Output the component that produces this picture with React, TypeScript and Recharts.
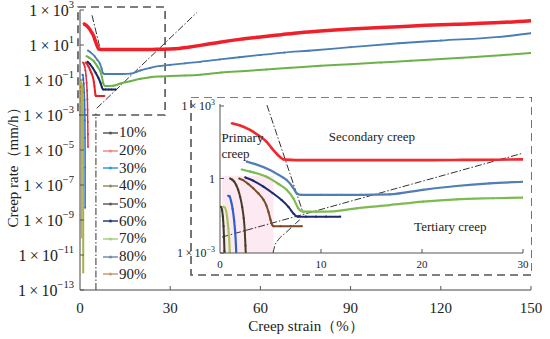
import React from 'react';
import { LineChart, Line, XAxis, YAxis, ReferenceLine, ReferenceArea, ReferenceDot } from 'recharts';

const FONT = '"Liberation Serif", "Times New Roman", serif';

// ---- legend ----
const legendLabels = ['10%', '20%', '30%', '40%', '50%', '60%', '70%', '80%', '90%'];
const legendColors = ['#5a5a4a', '#f08a7a', '#3a9ad8', '#9a8a6a', '#6a5a5a', '#2a3a8a', '#a8d080', '#7a8aaa', '#c89a70'];

// ---- series data: creep strain (%) and creep rate (mm/h) ----
const strain10 = [0.05, 0.12, 0.2, 0.28, 0.35, 0.4, 0.44, 0.47, 0.5, 0.52, 0.54];
const rate10 = [0.072, 0.07, 0.055, 0.03, 0.012, 0.004, 0.0012, 3e-4, 2e-5, 1e-7, 1e-10];

const strain20 = [1.16, 2, 2.97, 3.8, 4.62, 5.1, 5.6, 6.0, 6.27, 7, 8, 10, 12, 15, 18, 21, 24, 27, 30, 33, 36, 40, 46.5, 53, 60, 67, 73, 80, 90, 100, 106, 115, 125, 139.5, 150];
const rate20 = [167, 135, 90, 55, 30, 17, 10, 7, 5.9, 5.6, 5.5, 5.5, 5.5, 5.5, 5.5, 5.5, 5.6, 5.7, 5.9, 6.4, 7.5, 9.5, 14.5, 21, 29, 39, 50, 63, 82, 100, 112, 133, 155, 190, 245];

const strain30 = [0.8, 0.95, 1.1, 1.25, 1.4, 1.5, 1.58, 1.63, 1.67, 1.7, 1.72];
const rate30 = [0.2, 0.19, 0.12, 0.06, 0.02, 0.007, 0.002, 5e-4, 5e-5, 1e-6, 5e-9];

const strain40 = [1.9, 2.3, 2.8, 3.3, 3.8, 4.3, 4.6, 4.8, 5.0, 5.15, 5.3, 6, 7, 8.1];
const rate40 = [1.0, 0.85, 0.6, 0.4, 0.25, 0.14, 0.08, 0.045, 0.022, 0.014, 0.012, 0.012, 0.012, 0.012];

const strain50 = [1.0, 1.2, 1.4, 1.6, 1.8, 2.0, 2.2, 2.35, 2.45, 2.52, 2.58, 2.62, 2.66];
const rate50 = [1.0, 0.9, 0.75, 0.55, 0.35, 0.18, 0.07, 0.025, 0.008, 0.002, 4e-4, 8e-5, 1.5e-5];

const strain60 = [2.5, 3.2, 4.3, 5.2, 6.1, 6.8, 7.3, 7.7, 8.5, 9.5, 10.5, 11.9];
const rate60 = [1.1, 0.85, 0.47, 0.26, 0.135, 0.07, 0.038, 0.029, 0.029, 0.029, 0.029, 0.029];

const strain70 = [2.15, 3, 4.6, 5.8, 6.6, 7.3, 7.75, 8.25, 9.5, 11, 13.5, 16.8, 20.1, 23.4, 27, 30, 35, 40, 47, 55, 62, 70, 80, 90, 100, 110, 120, 130, 140, 150];
const rate70 = [2.3, 1.9, 1.18, 0.6, 0.35, 0.15, 0.063, 0.046, 0.046, 0.047, 0.063, 0.085, 0.117, 0.145, 0.16, 0.17, 0.18, 0.2, 0.27, 0.33, 0.4, 0.5, 0.65, 0.8, 1.0, 1.25, 1.6, 2.0, 2.6, 3.5];

const strain80 = [2.64, 3.5, 4.95, 5.8, 6.6, 7.2, 7.6, 8.1, 10, 12, 14, 16.8, 20.1, 23.4, 26.7, 30, 35, 40, 46.5, 53, 60, 68, 76, 90, 106, 120, 139.5, 150];
const rate80 = [4.8, 3.8, 2.2, 1.4, 0.87, 0.45, 0.25, 0.22, 0.22, 0.22, 0.22, 0.23, 0.35, 0.5, 0.64, 0.74, 0.9, 1.1, 1.5, 2.0, 2.7, 3.7, 4.7, 7.5, 12.6, 18, 29, 47];

const strain90 = [0.3, 0.45, 0.6, 0.72, 0.82, 0.9, 0.96, 1.0, 1.03, 1.05, 1.07, 1.08];
const rate90 = [0.072, 0.07, 0.05, 0.025, 0.01, 0.004, 0.0013, 4e-4, 5e-5, 2e-6, 1e-8, 1e-12];

// guide curve in the inset (dash-dot)
const guideStrain = [5.25, 5.4, 5.8, 6.5, 7.2, 7.9];
const guideRate = [0.001, 0.0018, 0.0035, 0.0065, 0.012, 0.022];

// ---- ticks ----
const mainYTicks = [1e3, 1e1, 1e-1, 1e-3, 1e-5, 1e-7, 1e-9, 1e-11, 1e-13];
const mainXTicks = [0, 30, 60, 90, 120, 150];
const insetYTicks = [1e-3, 1, 1e3];
const insetXTicks = [0, 10, 20, 30];

const seriesStrain = [strain10, strain20, strain30, strain40, strain50, strain60, strain70, strain80, strain90];
const seriesRate = [rate10, rate20, rate30, rate40, rate50, rate60, rate70, rate80, rate90];
const mainColors = ['#d8a050', '#f0202a', '#2e6fd0', '#e8202a', '#e03040', '#1a2860', '#6cb24a', '#4a7db5', '#a8b440'];
const insetColors = ['#3a3a2a', '#f02830', '#3060c8', '#7a4a2a', '#4a3a2a', '#1e2a70', '#7dbb50', '#4f7fb5', '#a8c458'];
const mainWidths = [1.5, 3.5, 1.5, 2, 1.5, 2, 2, 1.8, 2];
const insetWidths = [2, 2.6, 2.2, 2, 2, 2, 2.2, 2.2, 2.2];
const drawOrder = [0, 8, 2, 4, 3, 5, 6, 7, 1];

const toPoints = (xs: number[], ys: number[]) => xs.map((x, i) => ({ x, y: ys[i] }));
const seriesData = seriesStrain.map((s, i) => toPoints(s, seriesRate[i]));
const guideData = toPoints(guideStrain, guideRate);

const DASHDOT = '7 2 1.5 2';

// y tick: label anchored at axisX - gap, small inward tick line
const PowTick = (props: any) => {
  const { y, payload, fs, axisX, gap, tick } = props;
  const e = Math.round(Math.log10(payload.value));
  const sup = e < 0 ? '\u2212' + -e : String(e);
  return (
    <g>
      {tick ? <line x1={axisX} x2={axisX + 4} y1={y} y2={y} stroke="#555" strokeWidth={1} /> : null}
      <text x={axisX - gap} y={y + fs * 0.35} textAnchor="end" fontFamily={FONT} fontSize={fs} fill="#222">
        {e === 0 ? '1' : (
          <>
            {'1\u2009×\u200910'}
            <tspan dy={-fs * 0.45} fontSize={fs * 0.66}>{sup}</tspan>
          </>
        )}
      </text>
    </g>
  );
};

// x tick: label below axis, small inward tick line
const XTick = (props: any) => {
  const { x, payload, fs, axisY, gap } = props;
  const showLine = payload.value !== 0;
  return (
    <g>
      {showLine ? <line x1={x} x2={x} y1={axisY} y2={axisY - 4} stroke="#555" strokeWidth={1} /> : null}
      <text x={x} y={axisY + gap} textAnchor="middle" fontFamily={FONT} fontSize={fs} fill="#222">
        {payload.value}
      </text>
    </g>
  );
};

const YLabel = () => (
  <text x={18} y={164} transform="rotate(-90 18 164)" textAnchor="middle" fontFamily={FONT} fontSize={15} fill="#222">
    Creep rate（mm/h）
  </text>
);

const XLabel = () => (
  <text x={306} y={331} textAnchor="middle" fontFamily={FONT} fontSize={15} fill="#222">
    Creep strain（%）
  </text>
);

const MainChart = () => (
  <LineChart width={550} height={339} margin={{ top: 10, right: 19, bottom: 0, left: 0 }}>
    <XAxis
      type="number"
      dataKey="x"
      domain={[0, 150]}
      ticks={mainXTicks}
      height={49}
      allowDataOverflow
      stroke="#444"
      tickLine={false}
      tickSize={0}
      tick={<XTick fs={15} axisY={290} gap={23} />}
      label={<XLabel />}
    />
    <YAxis
      type="number"
      dataKey="y"
      scale="log"
      domain={[1e-13, 1e3]}
      ticks={mainYTicks}
      width={80}
      allowDataOverflow
      stroke="#444"
      tickLine={false}
      tickSize={0}
      tick={<PowTick fs={16} axisX={80} gap={6} tick />}
      label={<YLabel />}
    />
    <ReferenceArea x1={-0.67} x2={28.3} y1={1e-3} y2={1480} ifOverflow="visible" fill="none" stroke="#555" strokeWidth={1.6} strokeDasharray="8 5" />
    <ReferenceLine segment={[{ x: 4.0, y: 500 }, { x: 6.65, y: 6.7 }]} stroke="#333" strokeWidth={1} strokeDasharray={DASHDOT} ifOverflow="visible" />
    <ReferenceLine segment={[{ x: 5.55, y: 0.0024 }, { x: 38.8, y: 700 }]} stroke="#333" strokeWidth={1} strokeDasharray={DASHDOT} ifOverflow="visible" />
    <ReferenceLine segment={[{ x: 5.3, y: 1e-13 }, { x: 5.3, y: 0.0012 }]} stroke="#333" strokeWidth={1} strokeDasharray={DASHDOT} ifOverflow="visible" />
    {drawOrder.map((i) => (
      <Line
        key={i}
        data={seriesData[i]}
        dataKey="y"
        type="monotoneX"
        stroke={mainColors[i]}
        strokeWidth={mainWidths[i]}
        dot={{ r: 1, strokeWidth: 0, fill: mainColors[i] }}
        isAnimationActive={false}
      />
    ))}
  </LineChart>
);

const InsetChart = () => (
  <LineChart width={372} height={180} margin={{ top: 7, right: 9, bottom: 2, left: 0 }}>
    <ReferenceArea x1={0.2} x2={5.3} y1={1e-3} y2={1.3} fill="#fbe4ee" fillOpacity={0.8} stroke="none" ifOverflow="hidden" />
    <XAxis
      type="number"
      dataKey="x"
      domain={[0, 30]}
      ticks={insetXTicks}
      height={22}
      allowDataOverflow
      stroke="#555"
      tickLine={false}
      tickSize={0}
      tick={<XTick fs={11} axisY={156} gap={15} />}
    />
    <YAxis
      type="number"
      dataKey="y"
      scale="log"
      domain={[1e-3, 1e3]}
      ticks={insetYTicks}
      width={60}
      allowDataOverflow
      stroke="#555"
      tickLine={false}
      tickSize={0}
      tick={<PowTick fs={12} axisX={60} gap={5} tick />}
    />
    <ReferenceArea x1={-2.87} x2={30.89} y1={1.3e-4} y2={1920} ifOverflow="visible" fill="none" stroke="#555" strokeWidth={1.6} strokeDasharray="8 5" />
    <ReferenceLine segment={[{ x: 4.65, y: 900 }, { x: 8.2, y: 0.045 }]} stroke="#333" strokeWidth={1} strokeDasharray={DASHDOT} ifOverflow="visible" />
    <ReferenceLine segment={[{ x: 0.2, y: 0.0044 }, { x: 30, y: 10.5 }]} stroke="#333" strokeWidth={1} strokeDasharray={DASHDOT} ifOverflow="visible" />
    <Line data={guideData} dataKey="y" type="monotoneX" stroke="#333" strokeWidth={1} strokeDasharray={DASHDOT} dot={false} isAnimationActive={false} />
    {drawOrder.map((i) => (
      <Line
        key={i}
        data={seriesData[i]}
        dataKey="y"
        type="monotoneX"
        stroke={insetColors[i]}
        strokeWidth={insetWidths[i]}
        dot={{ r: 1.1, strokeWidth: 0, fill: insetColors[i] }}
        isAnimationActive={false}
      />
    ))}
    <ReferenceDot x={2.23} y={45} r={0} fill="none" stroke="none" label={{ value: 'Primary', position: 'center', fontFamily: FONT, fontSize: 13, fill: '#222' }} />
    <ReferenceDot x={1.53} y={10.7} r={0} fill="none" stroke="none" label={{ value: 'creep', position: 'center', fontFamily: FONT, fontSize: 13, fill: '#222' }} />
    <ReferenceDot x={15.05} y={51} r={0} fill="none" stroke="none" label={{ value: 'Secondary creep', position: 'center', fontFamily: FONT, fontSize: 13, fill: '#222' }} />
    <ReferenceDot x={22.8} y={0.012} r={0} fill="none" stroke="none" label={{ value: 'Tertiary creep', position: 'center', fontFamily: FONT, fontSize: 13, fill: '#222' }} />
  </LineChart>
);

const LegendBox = () => (
  <div style={{ position: 'absolute', left: 102, top: 124, fontFamily: FONT, fontSize: 15, color: '#222' }}>
    {legendLabels.map((lab, i) => (
      <div key={lab} style={{ height: 17.7, display: 'flex', alignItems: 'center' }}>
        <svg width={17} height={10} style={{ display: 'block' }}>
          <line x1={1} y1={5} x2={16} y2={5} stroke={legendColors[i]} strokeWidth={1.5} />
          <circle cx={8.5} cy={5} r={1.6} fill={legendColors[i]} />
        </svg>
        <span style={{ lineHeight: '15px' }}>{lab}</span>
      </div>
    ))}
  </div>
);

export default function App() {
  return (
    <div style={{ position: 'absolute', left: 0, top: 0, width: 550, height: 339, background: '#fff', overflow: 'hidden' }}>
      <div style={{ position: 'absolute', left: 0, top: 0 }}>
        <MainChart />
      </div>
      <LegendBox />
      <div style={{ position: 'absolute', left: 160, top: 97 }}>
        <InsetChart />
      </div>
    </div>
  );
}
